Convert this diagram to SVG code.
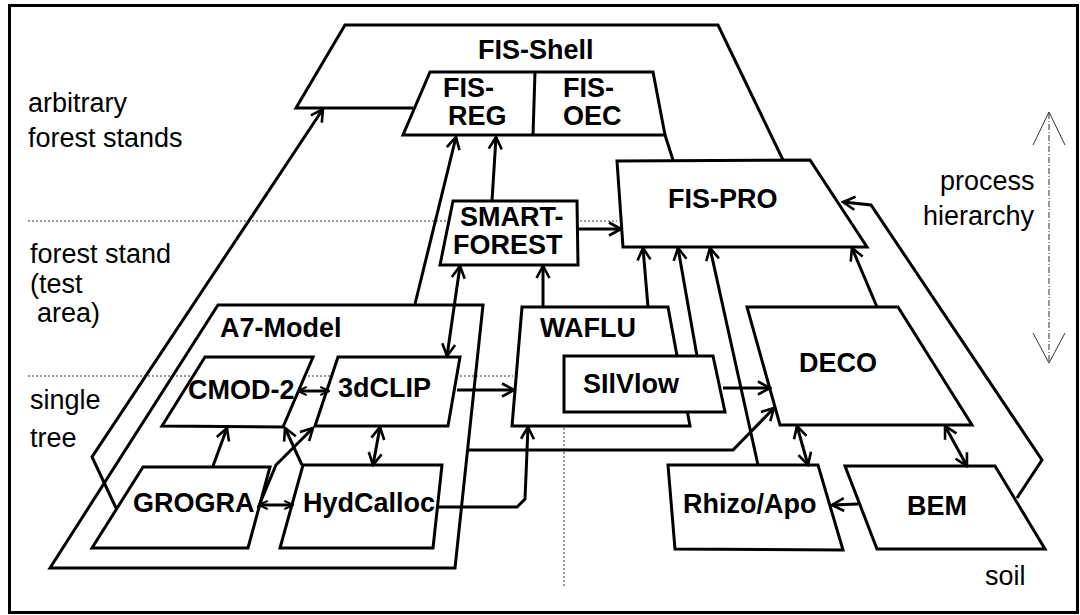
<svg xmlns="http://www.w3.org/2000/svg" width="1080" height="615" viewBox="0 0 1080 615">
<style>
.sh{fill:none;stroke:#000;stroke-width:3;stroke-linejoin:miter}
.bx{fill:#fff;stroke:#000;stroke-width:3;stroke-linejoin:miter}
.cn{fill:none;stroke:#000;stroke-width:3;stroke-linejoin:miter}
.dot{fill:none;stroke:#333;stroke-width:1;stroke-dasharray:2,2}
.lb{font-family:"Liberation Sans",Arial,sans-serif;font-weight:bold;font-size:27px;fill:#000}
.tx{font-family:"Liberation Sans",Arial,sans-serif;font-size:27px;fill:#000}
</style>
<defs>
<marker id="ah" viewBox="0 0 16 16" refX="14" refY="8" markerWidth="16" markerHeight="16" markerUnits="userSpaceOnUse" orient="auto-start-reverse">
<path d="M2,1.5 L14,8 L2,14.5" fill="none" stroke="#000" stroke-width="2.6"/>
</marker>
<marker id="as" viewBox="0 0 12 12" refX="11" refY="6" markerWidth="11" markerHeight="11" markerUnits="userSpaceOnUse" orient="auto-start-reverse">
<path d="M1.5,1.5 L11,6 L1.5,10.5" fill="none" stroke="#000" stroke-width="2.2"/>
</marker>
</defs>
<rect x="0" y="0" width="1080" height="615" fill="#fff"/>
<rect x="9.5" y="5.5" width="1068" height="607" fill="none" stroke="#000" stroke-width="3"/>

<g id="guides">
<line class="dot" x1="28" y1="221" x2="617" y2="221"/>
<line class="dot" x1="28" y1="376" x2="513" y2="376"/>
<line class="dot" x1="564" y1="428" x2="564" y2="587"/>
<line x1="1049" y1="113" x2="1049" y2="362" stroke="#333" stroke-width="1" stroke-dasharray="6,2,1,2"/>
<polyline points="1033,145 1049,112 1065,145" fill="none" stroke="#333" stroke-width="1"/>
<polyline points="1033,333 1049,363 1065,333" fill="none" stroke="#333" stroke-width="1"/>
</g>

<g id="labels">
<text class="tx" x="28" y="112">arbitrary</text>
<text class="tx" x="28" y="147">forest stands</text>
<text class="tx" x="30" y="263">forest stand</text>
<text class="tx" x="30" y="293">(test</text>
<text class="tx" x="37" y="322">area)</text>
<text class="tx" x="30" y="409">single</text>
<text class="tx" x="30" y="447">tree</text>
<text class="tx" x="940" y="190">process</text>
<text class="tx" x="923" y="225">hierarchy</text>
<text class="tx" x="985" y="585">soil</text>
</g>

<g id="fis-shell">
<polyline class="sh" points="413,108 296,108 345,25 718,25 783,160"/>
<line class="sh" x1="665" y1="135" x2="673" y2="160"/>
<text class="lb" x="478" y="59">FIS-Shell</text>
</g>

<g id="a7-model">
<polygon class="sh" points="218,305 483,305 455,568 50,568"/>
<text class="lb" x="220" y="337">A7-Model</text>
</g>

<g id="fis-reg-oec">
<polygon class="bx" points="430,72 653,72 665,135 403,135"/>
<line class="sh" x1="535" y1="72" x2="533" y2="135"/>
</g>
<g id="fis-reg">
<text class="lb" x="443" y="97">FIS-</text>
<text class="lb" x="448" y="125">REG</text>
</g>
<g id="fis-oec">
<text class="lb" x="563" y="97">FIS-</text>
<text class="lb" x="563" y="125">OEC</text>
</g>

<g id="fis-pro">
<polygon class="bx" points="617,161 810,160 867,247 623,247"/>
<text class="lb" x="668" y="208">FIS-PRO</text>
</g>

<g id="smart-forest">
<polygon class="bx" points="453,201 577,201 578,265 440,265"/>
<text class="lb" x="460" y="226">SMART-</text>
<text class="lb" x="453" y="254">FOREST</text>
</g>

<g id="waflu">
<polygon class="bx" points="522,307 668,307 690,426 512,426"/>
<text class="lb" x="540" y="337">WAFLU</text>
</g>

<g id="silvlow">
<polygon class="bx" points="564,356 713,356 725,412 564,412"/>
<text class="lb" x="583" y="393">SIlVlow</text>
</g>

<g id="deco">
<polygon class="bx" points="747,307 898,307 972,425 780,425"/>
<text class="lb" x="799" y="372">DECO</text>
</g>

<g id="cmod-2">
<polygon class="bx" points="205,357 313,357 283,427 162,426"/>
<text class="lb" x="188" y="399">CMOD-2</text>
</g>

<g id="3dclip">
<polygon class="bx" points="338,357 460,357 448,426 315,426"/>
<text class="lb" x="338" y="397">3dCLIP</text>
</g>

<g id="grogra">
<polygon class="bx" points="143,467 270,467 248,548 92,548"/>
<text class="lb" x="133" y="512">GROGRA</text>
</g>

<g id="hydcalloc">
<polygon class="bx" points="303,465 442,465 433,548 280,548"/>
<text class="lb" x="303" y="512">HydCalloc</text>
</g>

<g id="rhizo-apo">
<polygon class="bx" points="668,465 818,465 843,550 675,549"/>
<text class="lb" x="683" y="513">Rhizo/Apo</text>
</g>

<g id="bem">
<polygon class="bx" points="845,466 995,466 1045,549 877,549"/>
<text class="lb" x="907" y="515">BEM</text>
</g>

<g id="connectors">
<path class="cn" d="M415,304 L456,137" marker-end="url(#ah)"/>
<path class="cn" d="M492,201 L496,137" marker-end="url(#ah)"/>
<path class="cn" d="M578,229 L621,229" marker-end="url(#ah)"/>
<path class="cn" d="M543,307 L543,266" marker-end="url(#ah)"/>
<path class="cn" d="M460,266 L447,356" marker-start="url(#ah)" marker-end="url(#ah)"/>
<path class="cn" d="M648,307 L643,248" marker-end="url(#ah)"/>
<path class="cn" d="M697,356 L678,248" marker-end="url(#ah)"/>
<path class="cn" d="M758,465 L710,248" marker-end="url(#ah)"/>
<path class="cn" d="M877,307 L852,248" marker-end="url(#ah)"/>
<path class="cn" d="M1017,498 L1042,460 L871,205 L843,202" marker-end="url(#ah)"/>
<path class="cn" d="M116,508 L92,457 L323,109" marker-end="url(#ah)"/>
<path class="cn" d="M457,390 L514,390" marker-end="url(#ah)"/>
<path class="cn" d="M298,391 L329,391" stroke-width="2.5" marker-start="url(#as)" marker-end="url(#as)"/>
<path class="cn" d="M213,466 L227,428" marker-end="url(#ah)"/>
<path class="cn" d="M302,465 L285,428" marker-end="url(#ah)"/>
<path class="cn" d="M258,508 L276,465 L313,428" marker-end="url(#ah)"/>
<path class="cn" d="M259,505 L293,505" stroke-width="2.5" marker-start="url(#as)" marker-end="url(#as)"/>
<path class="cn" d="M380,427 L373,465" marker-start="url(#ah)" marker-end="url(#ah)"/>
<path class="cn" d="M438,507 L517,507 L525,499 L528,427" marker-end="url(#ah)"/>
<path class="cn" d="M468,450 L733,450 L774,408" marker-end="url(#ah)"/>
<path class="cn" d="M723,388 L770,388" marker-end="url(#ah)"/>
<path class="cn" d="M797,426 L808,465" marker-start="url(#ah)" marker-end="url(#ah)"/>
<path class="cn" d="M945,426 L967,466" marker-start="url(#ah)" marker-end="url(#ah)"/>
<path class="cn" d="M858,504 L832,505" marker-end="url(#ah)"/>
</g>
</svg>
